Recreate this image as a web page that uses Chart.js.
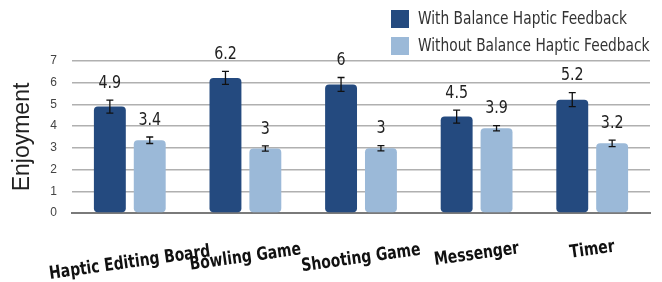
<!DOCTYPE html>
<html>
<head>
<meta charset="utf-8">
<script src="https://cdn.jsdelivr.net/npm/chart.js@4.4.1/dist/chart.umd.min.js"></script>
<style>
  html, body { margin: 0; padding: 0; background: #fff; }
</style>
</head>
<body>
<canvas id="myChart" width="662" height="282"></canvas>
<script>
// donnees
const categories = ["Haptic Editing Board", "Bowling Game", "Shooting Game", "Messenger", "Timer"];
const seriesNames = ["With Balance Haptic Feedback", "Without Balance Haptic Feedback"];
const withValues = [4.9, 6.22, 5.92, 4.44, 5.22];
const withoutValues = [3.35, 2.97, 2.98, 3.9, 3.21];
const withLabels = ["4.9", "6.2", "6", "4.5", "5.2"];
const withoutLabels = ["3.4", "3", "3", "3.9", "3.2"];
const withErrors = [0.3, 0.3, 0.32, 0.3, 0.32];
const withoutErrors = [0.15, 0.12, 0.12, 0.12, 0.15];
const yTicks = [0, 1, 2, 3, 4, 5, 6, 7];

const colors = ["rgb(36, 74, 127)", "rgb(155, 185, 216)"];
const narrow = "'DejaVu Sans Condensed', sans-serif";

// texte resserre horizontalement (pas de police condensee dispo)
function squeezeText(ctx, txt, x, y, sx) {
  ctx.save();
  ctx.translate(x, y);
  ctx.scale(sx, 1);
  ctx.fillText(txt, 0, 0);
  ctx.restore();
}

// barres d'erreur, etiquettes, axe x incline et legende
const extras = {
  id: "extras",
  afterDatasetsDraw(chart) {
    const ctx = chart.ctx;
    const xs = chart.scales.x;
    const ys = chart.scales.y;
    const errs = [withErrors, withoutErrors];
    const labs = [withLabels, withoutLabels];

    ctx.save();
    chart.data.datasets.forEach((ds, d) => {
      const meta = chart.getDatasetMeta(d);
      meta.data.forEach((bar, i) => {
        const v = ds.data[i];
        const top = ys.getPixelForValue(v + errs[d][i]);
        const bot = ys.getPixelForValue(v - errs[d][i]);
        ctx.strokeStyle = "#111";
        ctx.lineWidth = 1.3;
        ctx.beginPath();
        ctx.moveTo(bar.x, top); ctx.lineTo(bar.x, bot);
        ctx.moveTo(bar.x - 3.5, top); ctx.lineTo(bar.x + 3.5, top);
        ctx.moveTo(bar.x - 3.5, bot); ctx.lineTo(bar.x + 3.5, bot);
        ctx.stroke();

        ctx.fillStyle = "#222";
        ctx.font = "18px " + narrow;
        ctx.textAlign = "center";
        ctx.textBaseline = "middle";
        squeezeText(ctx, labs[d][i], bar.x, top - 17, 0.88);
      });
    });

    // etiquettes de l'axe x
    const ang = 8 * Math.PI / 180;
    const sx = 0.86;
    ctx.font = "bold 18px " + narrow;
    ctx.fillStyle = "#111";
    categories.forEach((c, i) => {
      const x = xs.getPixelForValue(i);
      const w = ctx.measureText(c).width * sx;
      const y = chart.chartArea.bottom + 32 + 0.111 * w;
      ctx.save();
      ctx.translate(x, y);
      ctx.rotate(-ang);
      ctx.textAlign = "center";
      ctx.textBaseline = "middle";
      squeezeText(ctx, c, 0, 0, sx);
      ctx.restore();
    });

    // legende
    ctx.font = "17px " + narrow;
    ctx.textAlign = "left";
    ctx.textBaseline = "middle";
    seriesNames.forEach((n, k) => {
      const y = 10 + k * 27;
      ctx.fillStyle = colors[k];
      ctx.fillRect(391, y, 18, 18);
      ctx.fillStyle = "#333";
      squeezeText(ctx, n, 418, y + 9.5, 0.9);
    });
    ctx.restore();
  }
};

const ctx = document.getElementById("myChart");

const myChart = new Chart(ctx, {
  type: "bar",
  data: {
    labels: categories,
    datasets: [
      {
        label: seriesNames[0],
        data: withValues,
        backgroundColor: colors[0],
        borderRadius: 4,
        borderSkipped: false,
        categoryPercentage: 0.69,
        barPercentage: 0.8
      },
      {
        label: seriesNames[1],
        data: withoutValues,
        backgroundColor: colors[1],
        borderRadius: 4,
        borderSkipped: false,
        categoryPercentage: 0.69,
        barPercentage: 0.8
      }
    ]
  },
  options: {
    responsive: false,
    animation: false,
    layout: { padding: { top: 61, right: 12, bottom: 69, left: 0 } },
    plugins: {
      legend: { display: false },
      tooltip: { enabled: false }
    },
    scales: {
      x: {
        grid: { display: false },
        ticks: { display: false },
        border: { display: true, color: "#7a7a7a", width: 2 },
        afterFit: (s) => { s.height = 0; }
      },
      y: {
        min: 0,
        max: 7,
        afterBuildTicks: (s) => { s.ticks = yTicks.map(v => ({ value: v })); },
        afterFit: (s) => { s.width = 72; },
        ticks: {
          padding: 15,
          color: "#444",
          font: { family: "'Liberation Sans', sans-serif", size: 12 }
        },
        grid: {
          drawTicks: false,
          color: (c) => c.tick && c.tick.value === 0 ? "rgba(0,0,0,0)" : "#b0b0b0",
          lineWidth: 1.5
        },
        border: { display: false },
        title: {
          display: true,
          text: "Enjoyment",
          color: "#222",
          font: { family: "'Liberation Sans', sans-serif", size: 23 },
          padding: { top: 9, bottom: 0 }
        }
      }
    }
  },
  plugins: [extras]
});
</script>
</body>
</html>
